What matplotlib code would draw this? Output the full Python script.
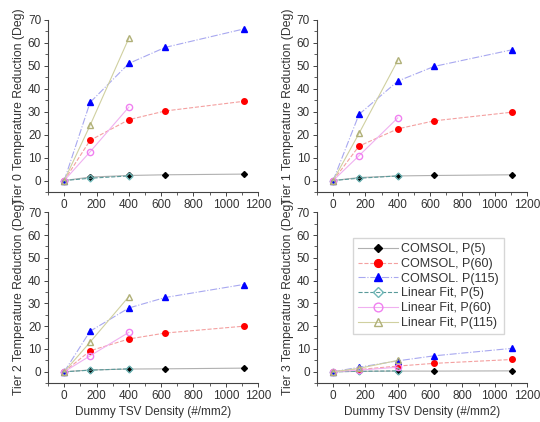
import matplotlib.pyplot as plt
from matplotlib.ticker import MultipleLocator

plt.rcParams['font.family'] = ['Liberation Sans', 'DejaVu Sans']

# data
density = [0, 160, 400, 625, 1110]
fit_density = [0, 160, 400]

tier0_p5 = [0, 1.5, 2.2, 2.5, 2.8]
tier0_p60 = [0, 17.5, 26.5, 30.3, 34.5]
tier0_p115 = [0, 34, 51, 58, 66]
tier0_fit_p5 = [0, 1.0, 2.0]
tier0_fit_p60 = [0, 12.5, 32]
tier0_fit_p115 = [0, 24, 62]

tier1_p5 = [0, 1.3, 2.0, 2.2, 2.5]
tier1_p60 = [0, 15, 22.5, 26, 29.8]
tier1_p115 = [0, 28.8, 43.3, 49.7, 57]
tier1_fit_p5 = [0, 1.0, 2.0]
tier1_fit_p60 = [0, 10.8, 27.3]
tier1_fit_p115 = [0, 20.5, 52.3]

tier2_p5 = [0, 0.8, 1.2, 1.3, 1.6]
tier2_p60 = [0, 9.2, 14.4, 17, 20]
tier2_p115 = [0, 17.8, 28, 32.6, 38.3]
tier2_fit_p5 = [0, 0.7, 1.3]
tier2_fit_p60 = [0, 7, 17.3]
tier2_fit_p115 = [0, 13, 33]

tier3_p5 = [0, 0.2, 0.3, 0.3, 0.4]
tier3_p60 = [0, 1.0, 2.5, 3.7, 5.4]
tier3_p115 = [0, 2.0, 4.8, 7.0, 10.3]
tier3_fit_p5 = [0, 0.2, 0.4]
tier3_fit_p60 = [0, 0.7, 2.0]
tier3_fit_p115 = [0, 1.5, 5.0]

tiers = [
    (tier0_p5, tier0_p60, tier0_p115, tier0_fit_p5, tier0_fit_p60, tier0_fit_p115),
    (tier1_p5, tier1_p60, tier1_p115, tier1_fit_p5, tier1_fit_p60, tier1_fit_p115),
    (tier2_p5, tier2_p60, tier2_p115, tier2_fit_p5, tier2_fit_p60, tier2_fit_p115),
    (tier3_p5, tier3_p60, tier3_p115, tier3_fit_p5, tier3_fit_p60, tier3_fit_p115),
]

txt = '#333333'
fig = plt.figure(figsize=(5.4, 4.22), dpi=100)
boxes = [[0.089, 0.545, 0.389, 0.408], [0.587, 0.545, 0.389, 0.408],
         [0.089, 0.092, 0.389, 0.405], [0.587, 0.092, 0.389, 0.405]]

for i, (box, data) in enumerate(zip(boxes, tiers)):
    p5, p60, p115, f5, f60, f115 = data
    ax = fig.add_axes(box)
    ax.plot(density, p5, color='#b0b0b0', lw=0.8, marker='D', ms=3,
            mfc='black', mec='black', label='COMSOL, P(5)')
    ax.plot(density, p60, color='#f4a0a0', lw=0.8, ls='--', marker='o', ms=4,
            mfc='red', mec='red', label='COMSOL, P(60)')
    ax.plot(density, p115, color='#a8a8f0', lw=0.8, ls='-.', marker='^', ms=4,
            mfc='blue', mec='blue', label='COMSOL. P(115)')
    ax.plot(fit_density, f5, color='#5a9a9a', lw=0.8, ls='--', marker='D', ms=3.5,
            mfc='none', mec='#70b8b8', label='Linear Fit, P(5)')
    ax.plot(fit_density, f60, color='#f0b0f0', lw=0.8, marker='o', ms=4.5,
            mfc='none', mec='#f080f0', label='Linear Fit, P(60)')
    ax.plot(fit_density, f115, color='#d0d0a0', lw=0.8, marker='^', ms=4.5,
            mfc='none', mec='#b0b078', label='Linear Fit, P(115)')
    ax.set_xlim(-100, 1200)
    ax.set_ylim(-5, 70)
    ax.xaxis.set_major_locator(MultipleLocator(200))
    ax.xaxis.set_minor_locator(MultipleLocator(100))
    ax.yaxis.set_major_locator(MultipleLocator(10))
    ax.yaxis.set_minor_locator(MultipleLocator(5))
    ax.set_xticks([0, 200, 400, 600, 800, 1000, 1200])
    for s in ['top', 'right']:
        ax.spines[s].set_visible(False)
    for s in ['left', 'bottom']:
        ax.spines[s].set_color('#444444')
        ax.spines[s].set_linewidth(0.8)
    ax.tick_params(labelsize=8.5, colors='#444444', labelcolor=txt, length=3, width=0.7, pad=2)
    ax.tick_params(which='minor', length=2, width=0.6, colors='#444444')
    ax.set_xlabel('Dummy TSV Density (#/mm2)', fontsize=8.5, color=txt, labelpad=3)
    ax.set_ylabel('Tier %d Temperature Reduction (Deg)' % i, fontsize=8.8, color=txt, labelpad=2)
    if i == 3:
        leg = ax.legend(loc='upper left', bbox_to_anchor=(0.14, 0.885), fontsize=9,
                        frameon=True, fancybox=False, edgecolor='#cccccc',
                        handlelength=3.2, borderpad=0.4, labelspacing=0.22,
                        handletextpad=0.3, markerscale=1.4)
        for t in leg.get_texts():
            t.set_color(txt)

fig.savefig('out.png', dpi=100)
